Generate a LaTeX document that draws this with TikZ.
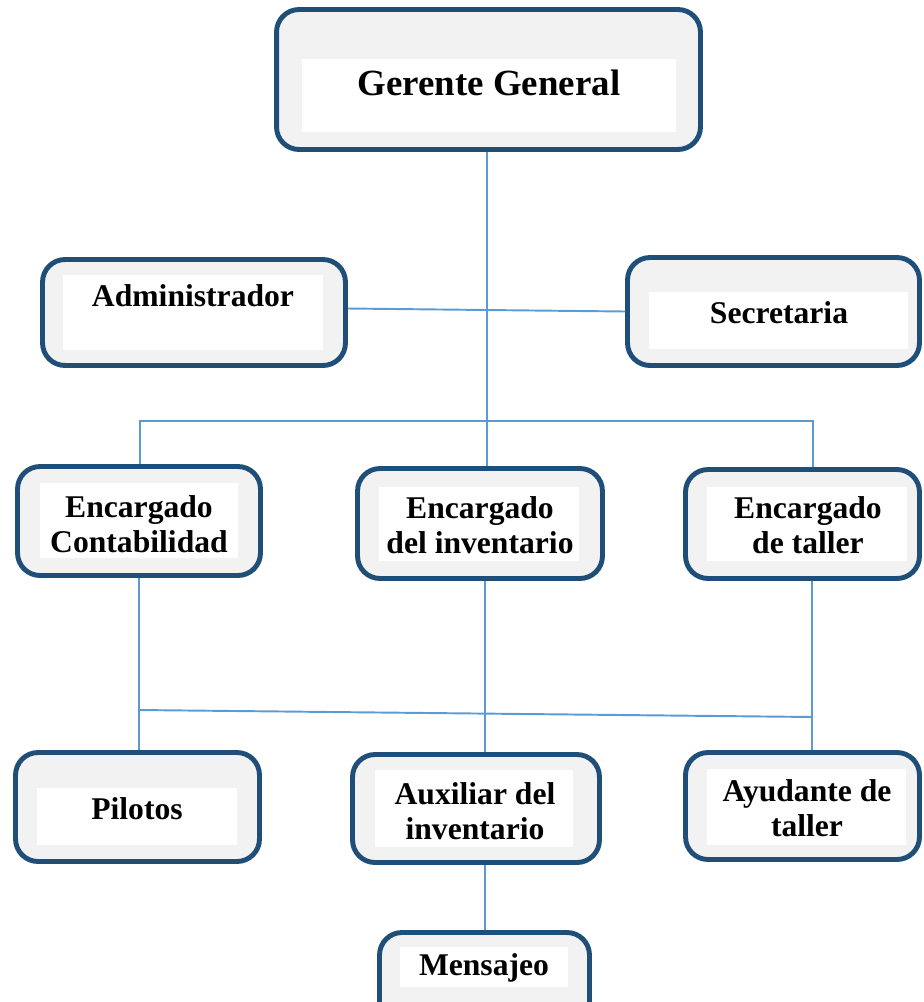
\documentclass[tikz,border=0pt]{standalone}
\usepackage{fontspec}
\setmainfont{Liberation Serif}
\definecolor{borde}{HTML}{1F4E79}
\definecolor{fondo}{HTML}{F2F2F2}
\definecolor{enlace}{HTML}{5B9BD5}
\begin{document}
\begin{tikzpicture}[x=0.02cm, y=-0.02cm]
\tikzstyle{caja} = [draw=borde, fill=fondo, line width=2.8pt, rounded corners=0.45cm, inner sep=0pt]
\tikzstyle{hoja} = [fill=white, inner sep=0pt]
\tikzstyle{texto} = [font=\bfseries\fontsize{18}{20}\selectfont, align=center, inner sep=0pt]
\tikzstyle{enlace} = [draw=enlace, line width=1.1pt]
\useasboundingbox (0,0) rectangle (924,1002);
\clip (0,0) rectangle (924,1002);
% cajas
\node[caja, minimum width=8.48cm, minimum height=2.8cm] (gg) at (488.5,79.5) {};
\node[hoja, minimum width=7.48cm, minimum height=1.46cm] at (489,95.5) {};
\node[texto, font=\bfseries\fontsize{21}{24}\selectfont] at (489,83) {Gerente General};
\node[caja, minimum width=6.06cm, minimum height=2.12cm] (adm) at (194,312.5) {};
\node[hoja, minimum width=5.2cm, minimum height=1.5cm] at (193,312.5) {};
\node[texto] at (193,296) {Administrador};
\node[caja, minimum width=5.84cm, minimum height=2.16cm] (sec) at (773.5,311.5) {};
\node[hoja, minimum width=5.18cm, minimum height=1.14cm] at (778.5,320.5) {};
\node[texto] at (779,313) {Secretaria};
\node[caja, minimum width=4.86cm, minimum height=2.18cm] (con) at (139,521) {};
\node[hoja, minimum width=3.96cm, minimum height=1.5cm] at (139,520.5) {};
\node[texto] at (139,524) {Encargado\\Contabilidad};
\node[caja, minimum width=4.9cm, minimum height=2.2cm] (inv) at (480,523.5) {};
\node[hoja, minimum width=4.0cm, minimum height=1.48cm] at (479,524) {};
\node[texto] at (480,525) {Encargado\\del inventario};
\node[caja, minimum width=4.68cm, minimum height=2.18cm] (tal) at (802.5,524) {};
\node[hoja, minimum width=4.0cm, minimum height=1.48cm] at (807,524) {};
\node[texto] at (808,525) {Encargado\\de taller};
\node[caja, minimum width=4.88cm, minimum height=2.18cm] (pil) at (137.5,807) {};
\node[hoja, minimum width=4.0cm, minimum height=1.14cm] at (137,816.5) {};
\node[texto] at (137,809) {Pilotos};
\node[caja, minimum width=4.94cm, minimum height=2.16cm] (aux) at (476,808.5) {};
\node[hoja, minimum width=3.96cm, minimum height=1.54cm] at (474,808.5) {};
\node[texto] at (475,811) {Auxiliar del\\inventario};
\node[caja, minimum width=4.68cm, minimum height=2.14cm] (ayu) at (802.5,806) {};
\node[hoja, minimum width=3.98cm, minimum height=1.52cm] at (806.5,807) {};
\node[texto] at (807,808.5) {Ayudante de\\taller};
\node[caja, minimum width=4.2cm, minimum height=2.1cm] (men) at (484.5,985) {};
\node[hoja, minimum width=3.36cm, minimum height=0.8cm] at (484,967) {};
\node[texto] at (484,968) {Mensajeo};
% lineas
\coordinate (c0) at (487,0);
\coordinate (c1) at (139,0);
\coordinate (c2) at (485,0);
\coordinate (c3) at (812,0);
\coordinate (ba) at (140,421);
\coordinate (bb) at (813,421);
\coordinate (ca) at (138,710);
\coordinate (cb) at (813,717);
\draw[enlace] (gg.south -| c0) -- (inv.north -| c0);
\draw[enlace] (adm.east) ++(0,-4) -- (sec.west);
\draw[enlace] (con.north -| ba) -- (ba) -- (bb) -- (tal.north -| bb);
\draw[enlace] (con.south -| c1) -- (pil.north -| c1);
\draw[enlace] (inv.south -| c2) -- (aux.north -| c2);
\draw[enlace] (tal.south -| c3) -- (ayu.north -| c3);
\draw[enlace] (ca) -- (cb);
\draw[enlace] (aux.south -| c2) -- (men.north -| c2);
\end{tikzpicture}
\end{document}
